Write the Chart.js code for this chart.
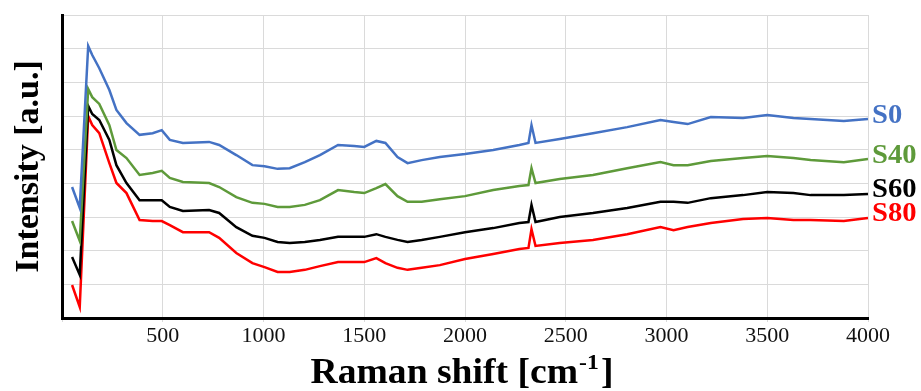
<!DOCTYPE html>
<html>
<head>
<meta charset="utf-8">
<title>Raman</title>
<script src="https://cdn.jsdelivr.net/npm/chart.js@4.4.1/dist/chart.umd.min.js"></script>
<style>
    html, body { margin: 0; padding: 0; background: #fff; }
    #wrap { width: 921px; height: 391px; position: relative; }
</style>
</head>
<body>
<div id="wrap"><canvas id="ramanChart"></canvas></div>
<script>
// Raman shift, cm-1
var shifts = [50, 88, 130, 150, 185, 235, 270, 320, 385, 450, 495, 535, 600, 730, 780, 865, 945, 1005,
    1070, 1130, 1205, 1280, 1370, 1450, 1500, 1560, 1605, 1665, 1715, 1785, 1875, 2000, 2140, 2270,
    2315, 2330, 2350, 2470, 2635, 2805, 2970, 3035, 3105, 3220, 3380, 3500, 3630, 3715, 3880, 4000];

// intensities (a.u., curves shifted for clarity)
var s0 = [3.89, 3.27, 8.08, 7.81, 7.42, 6.77, 6.18, 5.79, 5.44, 5.49, 5.58, 5.29, 5.20, 5.23, 5.14, 4.84, 4.54, 4.51,
    4.43, 4.45, 4.63, 4.84, 5.14, 5.11, 5.08, 5.26, 5.20, 4.78, 4.60, 4.69, 4.78, 4.87, 4.99, 5.14,
    5.20, 5.73, 5.20, 5.32, 5.49, 5.67, 5.88, 5.82, 5.76, 5.97, 5.94, 6.03, 5.94, 5.91, 5.85, 5.91];
var s40 = [2.88, 2.29, 6.80, 6.56, 6.36, 5.73, 4.99, 4.75, 4.25, 4.31, 4.37, 4.16, 4.04, 4.01, 3.89, 3.59, 3.42, 3.39,
    3.30, 3.30, 3.36, 3.50, 3.80, 3.74, 3.71, 3.86, 3.98, 3.62, 3.45, 3.45, 3.53, 3.62, 3.80, 3.92,
    3.95, 4.45, 4.01, 4.13, 4.25, 4.45, 4.63, 4.54, 4.54, 4.66, 4.75, 4.81, 4.75, 4.69, 4.63, 4.72];
var s60 = [1.81, 1.28, 6.30, 6.06, 5.88, 5.29, 4.54, 4.01, 3.50, 3.50, 3.50, 3.30, 3.18, 3.21, 3.12, 2.70, 2.44, 2.38,
    2.26, 2.23, 2.26, 2.32, 2.41, 2.41, 2.41, 2.49, 2.41, 2.32, 2.26, 2.32, 2.41, 2.55, 2.67, 2.82,
    2.85, 3.36, 2.85, 3.00, 3.12, 3.27, 3.45, 3.45, 3.42, 3.56, 3.65, 3.74, 3.71, 3.65, 3.65, 3.68];
var s80 = [0.98, 0.33, 6.00, 5.73, 5.49, 4.60, 4.01, 3.71, 2.91, 2.88, 2.88, 2.76, 2.55, 2.55, 2.38, 1.93, 1.63, 1.51,
    1.37, 1.37, 1.43, 1.54, 1.66, 1.66, 1.66, 1.78, 1.63, 1.49, 1.43, 1.49, 1.57, 1.75, 1.90, 2.05,
    2.08, 2.64, 2.14, 2.23, 2.32, 2.49, 2.70, 2.61, 2.70, 2.82, 2.94, 2.97, 2.91, 2.91, 2.88, 2.97];

var seriesNames = ['S0', 'S40', 'S60', 'S80'];
var seriesColors = ['#4472c4', '#5e9a3a', '#000000', '#ff0000'];
var xTicks = [500, 1000, 1500, 2000, 2500, 3000, 3500, 4000];

var SERIF = '"Liberation Serif", "Times New Roman", serif';

function toPoints(ys) {
    var pts = [];
    for (var i = 0; i < shifts.length; i++) {
        pts.push({ x: shifts[i], y: ys[i] });
    }
    return pts;
}

// names at the right end of each curve
var endLabels = {
    id: 'endLabels',
    afterDatasetsDraw: function (chart) {
        var ctx = chart.ctx;
        var shift = [-3, -3, -4, -4];
        ctx.save();
        ctx.font = 'bold 27px ' + SERIF;
        ctx.textBaseline = 'middle';
        ctx.textAlign = 'left';
        chart.data.datasets.forEach(function (ds, i) {
            var pts = chart.getDatasetMeta(i).data;
            var last = pts[pts.length - 1];
            ctx.save();
            ctx.translate(last.x + 4, last.y + shift[i]);
            ctx.scale(1.06, 1);
            ctx.fillStyle = ds.borderColor;
            ctx.fillText(ds.label, 0, 0);
            ctx.restore();
        });
        ctx.restore();
    }
};

// axis titles (the x one has a superscript)
var axisTitles = {
    id: 'axisTitles',
    afterDraw: function (chart) {
        var ctx = chart.ctx;
        var area = chart.chartArea;
        ctx.save();
        ctx.fillStyle = '#000';
        ctx.textBaseline = 'alphabetic';

        var main = 'Raman shift [cm';
        var sup = '-1';
        var tail = ']';
        var big = 'bold 35px ' + SERIF;
        var small = 'bold 22px ' + SERIF;
        ctx.font = big;
        var w1 = ctx.measureText(main).width;
        var w3 = ctx.measureText(tail).width;
        ctx.font = small;
        var w2 = ctx.measureText(sup).width;
        var total = w1 + w2 + w3 + 3;
        var sx = 303 / total;
        ctx.save();
        ctx.translate((area.left + area.right) / 2 - 3 - total * sx / 2, 383);
        ctx.scale(sx, 1);
        ctx.font = big;
        ctx.fillText(main, 0, 0);
        ctx.font = small;
        ctx.fillText(sup, w1 + 1, -14);
        ctx.font = big;
        ctx.fillText(tail, w1 + w2 + 3, 0);
        ctx.restore();

        ctx.translate(29, (area.top + area.bottom) / 2);
        ctx.rotate(-Math.PI / 2);
        ctx.textAlign = 'center';
        ctx.textBaseline = 'middle';
        ctx.font = 'bold 34px ' + SERIF;
        ctx.fillText('Intensity [a.u.]', 0, 0);
        ctx.restore();
    }
};

var datasets = [s0, s40, s60, s80].map(function (ys, i) {
    return {
        label: seriesNames[i],
        data: toPoints(ys),
        borderColor: seriesColors[i],
        backgroundColor: seriesColors[i],
        borderWidth: 2.5,
        pointRadius: 0,
        tension: 0,
        fill: false
    };
});

var ctx = document.getElementById('ramanChart').getContext('2d');
var chart = new Chart(ctx, {
    type: 'line',
    data: { datasets: datasets },
    options: {
        responsive: true,
        maintainAspectRatio: false,
        animation: false,
        layout: { padding: { top: 15, right: 53, left: 0, bottom: 0 } },
        plugins: {
            legend: { display: false },
            tooltip: { enabled: false }
        },
        scales: {
            x: {
                type: 'linear',
                min: 0,
                max: 4000,
                afterBuildTicks: function (scale) {
                    scale.ticks = [0].concat(xTicks).map(function (v) { return { value: v }; });
                },
                afterFit: function (scale) { scale.height = 73; },
                ticks: {
                    color: '#111',
                    font: { family: SERIF, size: 22 },
                    padding: 1,
                    maxRotation: 0,
                    callback: function (v) { return v === 0 ? '' : v; }
                },
                grid: { color: '#dadada', lineWidth: 1, tickLength: 4 },
                border: { color: '#000', width: 3 }
            },
            y: {
                min: 0,
                max: 9,
                ticks: { display: false, stepSize: 1 },
                afterFit: function (scale) { scale.width = 62; },
                grid: { color: '#dadada', lineWidth: 1, drawTicks: false },
                border: { color: '#000', width: 3 }
            }
        }
    },
    plugins: [endLabels, axisTitles]
});
</script>
</body>
</html>
